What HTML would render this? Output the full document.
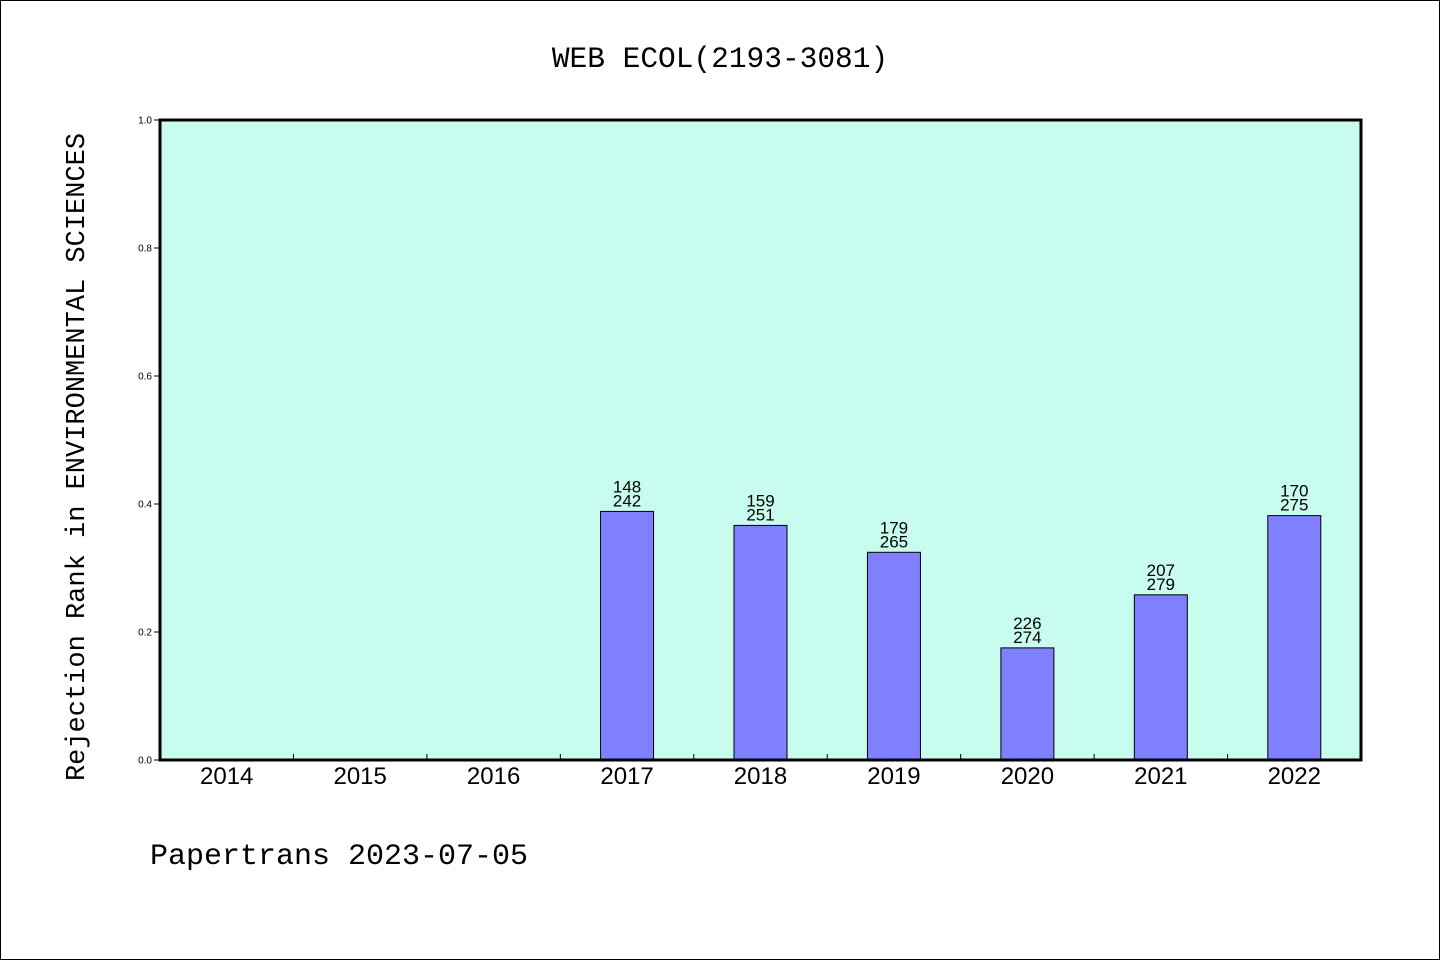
<!DOCTYPE html>
<html><head><meta charset="utf-8"><style>
body{margin:0;background:#fff}
svg{display:block}
text{font-family:"Liberation Sans","WenQuanYi Zen Hei",sans-serif}
.mono{font-family:"Liberation Mono","WenQuanYi Zen Hei",monospace}
</style></head><body>
<svg id="chart" width="1440" height="960" xmlns="http://www.w3.org/2000/svg">
<rect x="0.5" y="0.5" width="1439" height="959" fill="#fff" stroke="#000"/>
<text class="mono" x="720" y="67" font-size="29.5" text-anchor="middle">WEB ECOL(2193-3081)</text>
<rect x="160" y="120" width="1201" height="640" fill="#c8fcee"/>
<g id="bars"></g>
<g id="ticks"></g>
<rect x="160" y="120" width="1201" height="640" fill="none" stroke="#000" stroke-width="3"/>
<text class="mono" transform="translate(84,457) rotate(-90)" font-size="27" text-anchor="middle">Rejection Rank in ENVIRONMENTAL SCIENCES</text>
<text class="mono" x="150" y="864" font-size="30">Papertrans 2023-07-05</text>
</svg>
<script>
const years=["2014","2015","2016","2017","2018","2019","2020","2021","2022"];
const ranks=[null,null,null,148,159,179,226,207,170];
const totals=[null,null,null,242,251,265,274,279,275];
const yTicks=[0,0.2,0.4,0.6,0.8,1.0];
const NS="http://www.w3.org/2000/svg";
const X0=160,W=1201,Y0=760,H=640;
const bw=W/years.length;
const xc=i=>X0+(i+0.5)*bw;
const yv=v=>Y0-v*H;
const bars=document.getElementById('bars'),ticks=document.getElementById('ticks');
function mk(tag,attrs,parent){const e=document.createElementNS(NS,tag);for(const k in attrs)e.setAttribute(k,attrs[k]);parent.appendChild(e);return e;}
years.forEach((y,i)=>{
  const t=mk('text',{x:xc(i),y:784,'font-size':24,'text-anchor':'middle'},ticks);
  
  
  t.textContent=y;
  if(i>0){const l=mk('line',{x1:X0+i*bw,x2:X0+i*bw,y1:Y0,y2:Y0-6,stroke:'#000'},ticks);
    
    }
  if(ranks[i]!=null){
    const v=1-ranks[i]/totals[i];
    const r=mk('rect',{x:xc(i)-26.5,y:yv(v),width:53,height:Y0-yv(v),fill:'#8080ff',stroke:'#000','stroke-width':1},bars);
    
    
    const a=mk('text',{x:xc(i),y:yv(v)-19,'font-size':17,'text-anchor':'middle'},bars);
    
    
    a.textContent=ranks[i];
    const b=mk('text',{x:xc(i),y:yv(v)-5,'font-size':17,'text-anchor':'middle'},bars);
    
    
    b.textContent=totals[i];
  }
});
yTicks.forEach(v=>{
  const l=mk('line',{x1:X0-6,x2:X0,y1:yv(v),y2:yv(v),stroke:'#000'},ticks);
  
  
  const t=mk('text',{x:X0-8,y:yv(v)+3.5,'font-size':10,'text-anchor':'end'},ticks);
  
  
  t.textContent=v.toFixed(1);
});
</script>
</body></html>
